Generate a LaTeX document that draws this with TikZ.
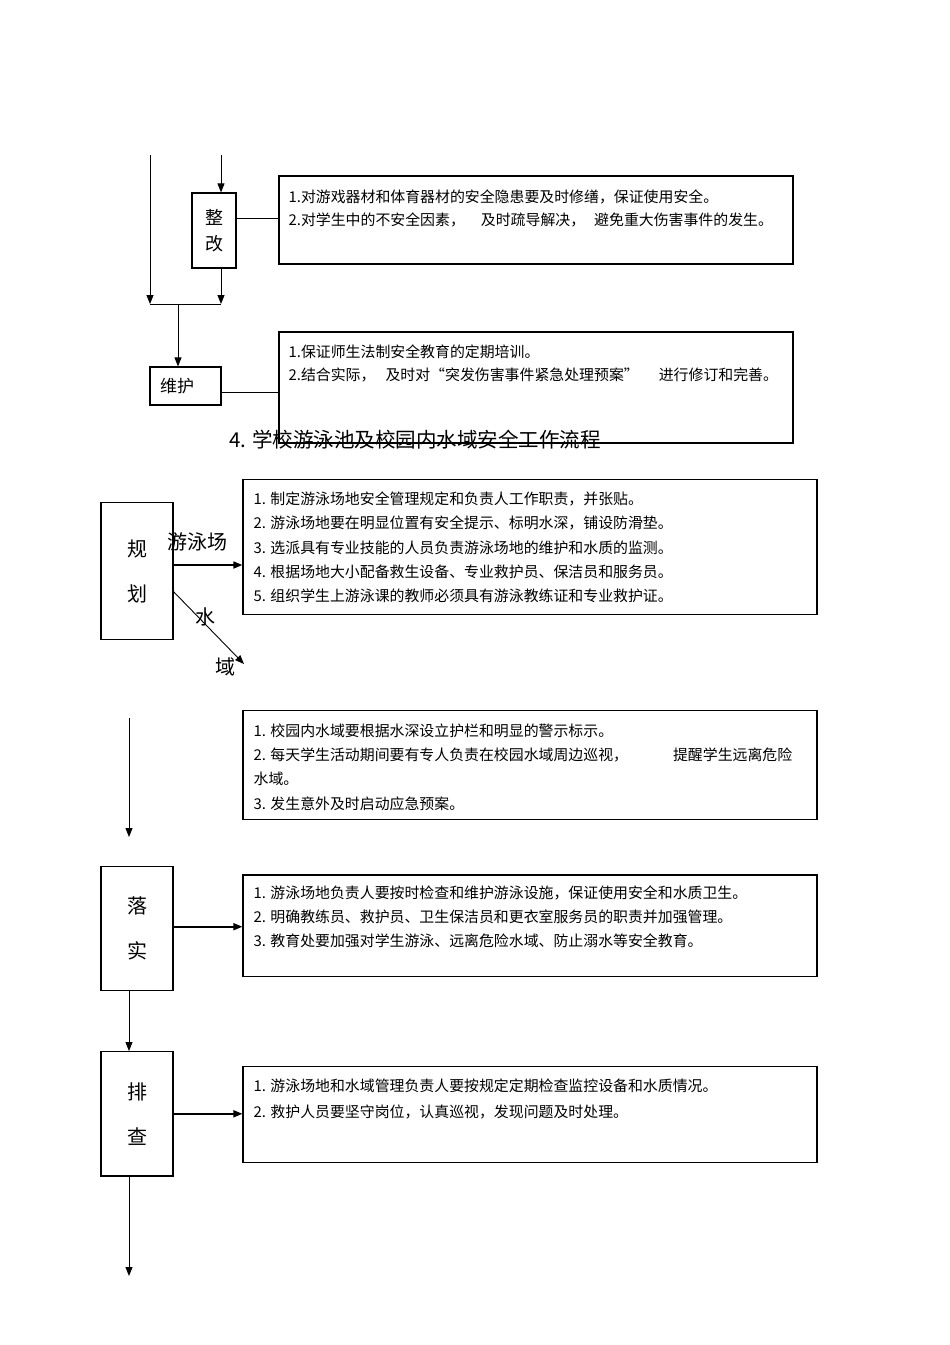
\documentclass[tikz,border=0pt]{standalone}
\usepackage{fontspec}
\setmainfont{Noto Sans CJK SC}
\usetikzlibrary{positioning,arrows.meta}
\tikzset{
  stepbox/.style={draw, line width=1.2pt, minimum width=72pt, inner sep=0pt, align=center, font=\fontsize{20}{45}\selectfont},
  notebox/.style={draw, line width=1.2pt, minimum width=574pt, inner sep=0pt},
  notetext/.style={anchor=north west, align=left, inner sep=0pt, font=\fontsize{14.9}{24.3}\selectfont},
  flow/.style={line width=0.9pt, -{Triangle[length=9pt,width=7pt]}},
  feed/.style={line width=1.6pt, -{Triangle[length=9pt,width=7pt]}},
  tag/.style={inner sep=0pt, font=\fontsize{20}{24}\selectfont},
}
\begin{document}
\begin{tikzpicture}[x=1pt, y=-1pt]
\useasboundingbox (0,0) rectangle (950,1345);
% upper part
\path (150,155) coordinate (src-l) (221,155) coordinate (src-r)
      (150,304) coordinate (join-l) (221,304) coordinate (join-r) (178,304) coordinate (join-m);
\node[stepbox, minimum width=44pt, minimum height=75pt, font=\fontsize{18}{26}\selectfont] (zg) at (214,230.5) {整\\改};
\node[stepbox, minimum width=71pt, minimum height=38pt, text width=51pt, inner xsep=10pt, align=left, font=\fontsize{17}{20}\selectfont] (wh) at (185.5,386) {维护};
\node[notebox, minimum width=514pt, minimum height=88pt] (zg-note) at (536,220) {};
\node[notetext, font=\fontsize{14.9}{23.3}\selectfont, below right=14pt and 10pt of zg-note.north west] (zg-text)
  {1.对游戏器材和体育器材的安全隐患要及时修缮，保证使用安全。\\
   2.对学生中的不安全因素，\hspace{16pt}及时疏导解决，\hspace{9pt}避免重大伤害事件的发生。};
\node[notebox, minimum width=514pt, minimum height=111pt] (wh-note) at (536,387.4) {};
\node[notetext, font=\fontsize{14.9}{23.3}\selectfont, below right=13.5pt and 10pt of wh-note.north west] (wh-text)
  {1.保证师生法制安全教育的定期培训。\\
   2.结合实际，\hspace{10pt}及时对“突发伤害事件紧急处理预案”\hspace{20pt}进行修订和完善。};
\draw[flow] (src-r) -- (src-r |- zg.north);
\draw[flow] (zg.south -| join-r) -- (join-r);
\draw[flow] (src-l) -- (join-l);
\draw[line width=0.9pt] (join-l) -- (join-r);
\draw[flow] (join-m) -- (join-m |- wh.north);
\draw[line width=0.9pt] ([yshift=12.5pt]zg.east) -- ([yshift=12.5pt]zg.east -| zg-note.west);
\draw[line width=0.9pt] ([yshift=-6pt]wh.east) -- ([yshift=-6pt]wh.east -| wh-note.west);
\node[font=\fontsize{20.5}{24}\selectfont, inner sep=0pt] (title) at (415,440) {4. 学校游泳池及校园内水域安全工作流程};
% swimming pool and water
\node[stepbox, minimum height=137pt] (gh) at (137,571) {规\\划};
\node[notebox, minimum height=135pt] (swim-note) at (530,546.6) {};
\node[notetext, below right=13.2pt and 11pt of swim-note.north west] (swim-text)
  {1. 制定游泳场地安全管理规定和负责人工作职责，并张贴。\\
   2. 游泳场地要在明显位置有安全提示、标明水深，铺设防滑垫。\\
   3. 选派具有专业技能的人员负责游泳场地的维护和水质的监测。\\
   4. 根据场地大小配备救生设备、专业救护员、保洁员和服务员。\\
   5. 组织学生上游泳课的教师必须具有游泳教练证和专业救护证。};
\draw[feed] ([yshift=6pt]gh.east) -- ([yshift=6pt]gh.east -| swim-note.west);
\node[tag] (swim-lbl) at (197,542) {游泳场};
\coordinate (water-end) at (244,664);
\draw[flow] ([yshift=-20.7pt]gh.east) -- (water-end);
\node[tag] (water-lbl1) at (205,617) {水};
\node[tag] (water-lbl2) at (225,667) {域};
\node[notebox, minimum height=108.5pt] (water-note) at (530,765) {};
\node[notetext, below right=13.2pt and 11pt of water-note.north west] (water-text)
  {1. 校园内水域要根据水深设立护栏和明显的警示标示。\\
   2. 每天学生活动期间要有专人负责在校园水域周边巡视，\hspace{45pt}提醒学生远离危险\\
   水域。\\
   3. 发生意外及时启动应急预案。};
\path (129,718) coordinate (drop-top) (129,837) coordinate (drop-end);
\draw[flow] (drop-top) -- (drop-end);
% carry out and check
\node[stepbox, minimum height=124pt] (ls) at (137,928.7) {落\\实};
\node[notebox, minimum height=101.7pt] (impl-note) at (530,925.8) {};
\node[notetext, font=\fontsize{14.9}{23.9}\selectfont, below right=11.5pt and 11pt of impl-note.north west] (impl-text)
  {1. 游泳场地负责人要按时检查和维护游泳设施，保证使用安全和水质卫生。\\
   2. 明确教练员、救护员、卫生保洁员和更衣室服务员的职责并加强管理。\\
   3. 教育处要加强对学生游泳、远离危险水域、防止溺水等安全教育。};
\draw[feed] ([yshift=2pt]ls.east) -- ([yshift=2pt]ls.east -| impl-note.west);
\node[stepbox, minimum height=124.3pt] (pc) at (137,1113.8) {排\\查};
\node[notebox, minimum height=96pt] (check-note) at (530,1114.7) {};
\node[notetext, font=\fontsize{14.9}{25.7}\selectfont, below right=12.8pt and 11pt of check-note.north west] (check-text)
  {1. 游泳场地和水域管理负责人要按规定定期检查监控设备和水质情况。\\
   2. 救护人员要坚守岗位，认真巡视，发现问题及时处理。};
\draw[flow] ([xshift=-8pt]ls.south) -- ([xshift=-8pt]pc.north);
\draw[feed] (pc.east) -- (pc.east -| check-note.west);
\coordinate (flow-end) at (129,1276);
\draw[flow] ([xshift=-8pt]pc.south) -- (flow-end);
\end{tikzpicture}
\end{document}
